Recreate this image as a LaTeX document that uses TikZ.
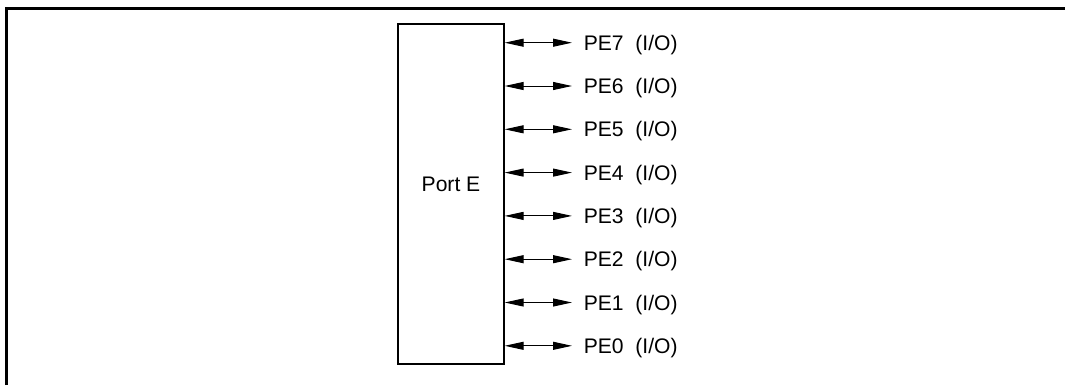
\documentclass[tikz,border=0pt]{standalone}
\usepackage{fontspec}
\setmainfont{Liberation Sans}
\usetikzlibrary{arrows.meta}

\begin{document}
\begin{tikzpicture}[every node/.style={font=\fontsize{12}{14}\selectfont},
        pinlabel/.style={anchor=west, inner sep=0pt, text height=8.6pt, text depth=0pt},
        bidir/.style={{Triangle[length=0.38cm,width=0.16cm]}-{Triangle[length=0.38cm,width=0.16cm]},
                      line width=0.55pt, shorten >=0.23cm}]
      \useasboundingbox (0,0) rectangle (21.3,-7.7);
      % frame (top and left only)
      \draw[line width=1.5pt] (0.13,-7.7) -- (0.13,-0.17) -- (21.3,-0.17);
      \node[draw, line width=0.75pt, minimum width=2.12cm, minimum height=6.8cm,
            inner sep=0pt] (PORT) at (9.02,-3.88) {};
      \node (PORTNAME) at (9.02,-3.68) {Port E};
      \node[pinlabel] (PE7) at (11.67,-0.854) {PE7\ \ (I/O)};
      \node[pinlabel] (PE6) at (11.67,-1.720) {PE6\ \ (I/O)};
      \node[pinlabel] (PE5) at (11.67,-2.586) {PE5\ \ (I/O)};
      \node[pinlabel] (PE4) at (11.67,-3.452) {PE4\ \ (I/O)};
      \node[pinlabel] (PE3) at (11.67,-4.318) {PE3\ \ (I/O)};
      \node[pinlabel] (PE2) at (11.67,-5.184) {PE2\ \ (I/O)};
      \node[pinlabel] (PE1) at (11.67,-6.050) {PE1\ \ (I/O)};
      \node[pinlabel] (PE0) at (11.67,-6.916) {PE0\ \ (I/O)};
      \draw[bidir] (PORT.east |- PE7.west) -- (PE7.west);
      \draw[bidir] (PORT.east |- PE6.west) -- (PE6.west);
      \draw[bidir] (PORT.east |- PE5.west) -- (PE5.west);
      \draw[bidir] (PORT.east |- PE4.west) -- (PE4.west);
      \draw[bidir] (PORT.east |- PE3.west) -- (PE3.west);
      \draw[bidir] (PORT.east |- PE2.west) -- (PE2.west);
      \draw[bidir] (PORT.east |- PE1.west) -- (PE1.west);
      \draw[bidir] (PORT.east |- PE0.west) -- (PE0.west);
    \end{tikzpicture}
\end{document}
